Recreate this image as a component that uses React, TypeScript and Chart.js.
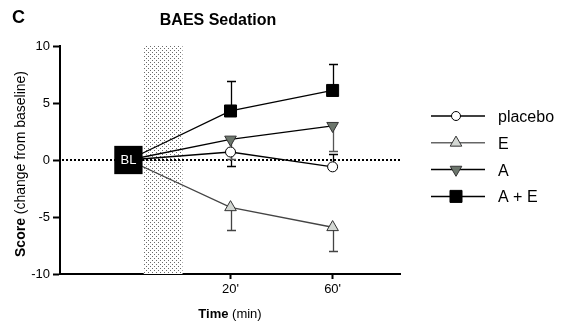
import React, { useEffect, useRef } from 'react';
import { Chart, registerables } from 'chart.js';
import { drawPoint } from 'chart.js/helpers';

Chart.register(...registerables);

const FONT = "'Liberation Sans', Arial, Helvetica, sans-serif";

// ---- data ----
const timePositions = [0, 1, 2]; // BL, 20', 60'
const tickPositions = [1, 2];
const timeTickLabels = ["20'", "60'"];
const baselineLabel = 'BL';
const seriesNames = ['placebo', 'E', 'A', 'A + E'];
const placeboMean = [0, 0.7, -0.6];
const placeboErr = [0, -1.2, 1.1];
const eMean = [0, -4.15, -5.9];
const eErr = [0, -1.95, -2.05];
const aMean = [0, 1.8, 3.0];
const aErr = [0, -1.7, -2.25];
const aeMean = [0, 4.3, 6.1];
const aeErr = [0, 2.6, 2.3];
const yTickValues = [-10, -5, 0, 5, 10];
const shadeRange = [0.15, 0.53];
const xRange = [-0.67, 2.66];
const yRange = [-10, 10];

const chartTitle = 'BAES Sedation';
const panelLetter = 'C';
const xTitleBold = 'Time';
const xTitleRest = ' (min)';
const yTitleBold = 'Score';
const yTitleRest = ' (change from baseline)';

const means = [placeboMean, eMean, aMean, aeMean];
const errs = [placeboErr, eErr, aErr, aeErr];

const styles = [
  { line: '#000', border: '#000', fill: '#fff', pointStyle: 'circle', radius: 5, legendRadius: 4.5, rotation: 0, err: '#000' },
  { line: '#444', border: '#333', fill: '#d3d7d3', pointStyle: 'triangle', radius: 6.7, legendRadius: 6.7, rotation: 0, err: '#444' },
  { line: '#000', border: '#333', fill: '#6c766c', pointStyle: 'triangle', radius: 6.7, legendRadius: 6.7, rotation: 180, err: '#555' },
  { line: '#000', border: '#000', fill: '#000', pointStyle: 'rect', radius: 8.5, legendRadius: 8.5, rotation: 0, err: '#000' },
];

let patternCache: CanvasPattern | null = null;
function getPattern(ctx: CanvasRenderingContext2D) {
  if (patternCache) return patternCache;
  const c = document.createElement('canvas');
  c.width = 4;
  c.height = 4;
  const p = c.getContext('2d')!;
  p.fillStyle = '#fff';
  p.fillRect(0, 0, 4, 4);
  p.fillStyle = '#6a6a6a';
  p.fillRect(0, 0, 1, 1);
  p.fillRect(2, 2, 1, 1);
  patternCache = ctx.createPattern(c, 'repeat');
  return patternCache!;
}

const customPlugin = {
  id: 'customDraw',
  beforeDatasetsDraw(chart: any) {
    const { ctx, chartArea } = chart;
    const xs = chart.scales.x;
    const ys = chart.scales.y;
    ctx.save();
    // shaded infusion period
    const sx0 = xs.getPixelForValue(shadeRange[0]);
    const sx1 = xs.getPixelForValue(shadeRange[1]);
    ctx.fillStyle = getPattern(ctx);
    ctx.fillRect(sx0, chartArea.top, sx1 - sx0, chartArea.bottom - chartArea.top);
    // dotted zero line
    const y0 = ys.getPixelForValue(0);
    ctx.setLineDash([2, 2]);
    ctx.lineWidth = 2;
    ctx.strokeStyle = '#000';
    ctx.beginPath();
    ctx.moveTo(chartArea.left + 2, y0);
    ctx.lineTo(chartArea.right, y0);
    ctx.stroke();
    ctx.setLineDash([]);
    // error bars
    means.forEach((m, si) => {
      const e = errs[si];
      ctx.strokeStyle = styles[si].err;
      ctx.lineWidth = 1.3;
      for (let i = 1; i < m.length; i++) {
        if (!e[i]) continue;
        const px = Math.round(xs.getPixelForValue(timePositions[i])) + 0.5;
        const py = ys.getPixelForValue(m[i]);
        const pe = Math.round(ys.getPixelForValue(m[i] + e[i])) + 0.5;
        ctx.beginPath();
        ctx.moveTo(px, py);
        ctx.lineTo(px, pe);
        ctx.moveTo(px - 4.5, pe);
        ctx.lineTo(px + 4.5, pe);
        ctx.stroke();
      }
    });
    ctx.restore();
  },
  afterDraw(chart: any) {
    const { ctx, chartArea } = chart;
    const xs = chart.scales.x;
    const ys = chart.scales.y;
    ctx.save();
    // BL label
    ctx.fillStyle = '#fff';
    ctx.font = `13px ${FONT}`;
    ctx.textAlign = 'center';
    ctx.textBaseline = 'middle';
    ctx.fillText(baselineLabel, xs.getPixelForValue(timePositions[0]), ys.getPixelForValue(0) + 0.5);

    // panel letter
    ctx.fillStyle = '#000';
    ctx.textAlign = 'left';
    ctx.textBaseline = 'alphabetic';
    ctx.font = `bold 18px ${FONT}`;
    ctx.fillText(panelLetter, 12, 23);

    // title
    ctx.textAlign = 'center';
    ctx.font = `bold 16px ${FONT}`;
    ctx.fillText(chartTitle, 218, 25);

    // x title
    const drawMixed = (bold: string, rest: string, size: number, cx: number, cy: number) => {
      ctx.font = `bold ${size}px ${FONT}`;
      const wb = ctx.measureText(bold).width;
      ctx.font = `${size}px ${FONT}`;
      const wr = ctx.measureText(rest).width;
      const start = cx - (wb + wr) / 2;
      ctx.textAlign = 'left';
      ctx.font = `bold ${size}px ${FONT}`;
      ctx.fillText(bold, start, cy);
      ctx.font = `${size}px ${FONT}`;
      ctx.fillText(rest, start + wb, cy);
    };
    ctx.textBaseline = 'alphabetic';
    drawMixed(xTitleBold, xTitleRest, 13, (chartArea.left + chartArea.right) / 2, 318);

    // y title
    ctx.save();
    ctx.translate(25, 164);
    ctx.rotate(-Math.PI / 2);
    drawMixed(yTitleBold, yTitleRest, 14, 0, 0);
    ctx.restore();

    // legend
    const lx = chartArea.right + 31;
    const lineLen = 54;
    const startY = 116;
    const step = 26.8;
    seriesNames.forEach((name, i) => {
      const st = styles[i];
      const y = startY + i * step;
      ctx.strokeStyle = i === 1 ? '#666' : '#000';
      ctx.lineWidth = 1.5;
      ctx.beginPath();
      ctx.moveTo(lx, y);
      ctx.lineTo(lx + lineLen, y);
      ctx.stroke();
      ctx.fillStyle = st.fill;
      ctx.strokeStyle = st.border;
      ctx.lineWidth = 1;
      drawPoint(ctx, { pointStyle: st.pointStyle, rotation: st.rotation, radius: st.legendRadius, borderWidth: 1 } as any, lx + 25, y);
      ctx.fillStyle = '#000';
      ctx.font = `16px ${FONT}`;
      ctx.textAlign = 'left';
      ctx.textBaseline = 'alphabetic';
      ctx.fillText(name, lx + 67, y + 6);
    });
    ctx.restore();
  },
};

export default function App() {
  const ref = useRef<HTMLCanvasElement | null>(null);
  useEffect(() => {
    document.body.style.margin = '0';
    const canvas = ref.current!;
    const datasets: any[] = [
      {
        label: baselineLabel,
        data: [{ x: timePositions[0], y: 0 }],
        pointStyle: 'rect',
        pointRadius: 20,
        pointBackgroundColor: '#000',
        pointBorderColor: '#000',
        pointBorderWidth: 0,
        showLine: false,
        order: 0,
      },
    ];
    seriesNames.forEach((name, si) => {
      const st = styles[si];
      datasets.push({
        label: name,
        data: timePositions.map((t, i) => ({ x: t, y: means[si][i] })),
        borderColor: st.line,
        borderWidth: 1.3,
        showLine: true,
        pointStyle: st.pointStyle,
        rotation: st.rotation,
        pointRadius: timePositions.map((_, i) => (i === 0 ? 0 : st.radius)),
        pointBackgroundColor: st.fill,
        pointBorderColor: st.border,
        pointBorderWidth: 1,
        order: 1 + si,
      });
    });
    const chart = new Chart(canvas, {
      type: 'scatter',
      data: { datasets },
      options: {
        animation: false,
        responsive: false,
        devicePixelRatio: 1,
        layout: { padding: { top: 46, right: 171, left: 0, bottom: 0 } },
        plugins: { legend: { display: false }, tooltip: { enabled: false }, title: { display: false } },
        scales: {
          x: {
            type: 'linear',
            min: xRange[0],
            max: xRange[1],
            afterBuildTicks: (scale: any) => {
              scale.ticks = tickPositions.map((v) => ({ value: v }));
            },
            afterFit: (scale: any) => {
              scale.height = 51;
            },
            ticks: {
              callback: (v: any) => {
                const idx = tickPositions.indexOf(Number(v));
                return idx >= 0 ? timeTickLabels[idx] : '';
              },
              color: '#000',
              font: { family: FONT, size: 13 },
              padding: 3,
              maxRotation: 0,
            },
            grid: { drawOnChartArea: false, drawTicks: true, tickLength: 5, tickColor: '#000', tickWidth: 2 },
            border: { display: true, color: '#000', width: 2 },
          },
          y: {
            min: yRange[0],
            max: yRange[1],
            afterBuildTicks: (scale: any) => {
              scale.ticks = yTickValues.map((v) => ({ value: v }));
            },
            afterFit: (scale: any) => {
              scale.width = 60;
            },
            ticks: {
              color: '#000',
              font: { family: FONT, size: 13 },
              padding: 3,
            },
            grid: { drawOnChartArea: false, drawTicks: true, tickLength: 7, tickColor: '#000', tickWidth: 2 },
            border: { display: true, color: '#000', width: 2 },
          },
        },
      },
      plugins: [customPlugin],
    } as any);
    return () => chart.destroy();
  }, []);
  return (
    <div style={{ position: 'absolute', left: 0, top: 0, width: 571, height: 325, background: '#fff' }}>
      <canvas ref={ref} width={571} height={325} />
    </div>
  );
}
